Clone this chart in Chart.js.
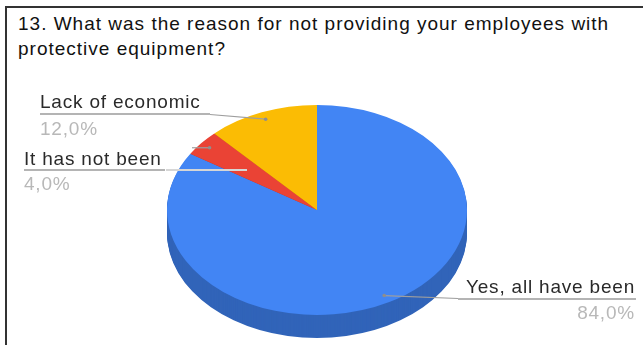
<!DOCTYPE html>
<html>
<head>
<meta charset="utf-8">
<script src="https://cdn.jsdelivr.net/npm/chart.js@4.4.0/dist/chart.umd.min.js"></script>
<style>
  body { margin: 0; background: #fff; }
  #wrap { position: relative; width: 643px; height: 345px; overflow: hidden; }
  #frame { position: absolute; left: 5px; top: 6px; right: -4px; bottom: -4px;
           border-top: 2px solid #333; border-left: 2px solid #333; }
  #title { position: absolute; left: 18px; top: 11px; font: 19px 'Liberation Sans', Arial, sans-serif;
           letter-spacing: 1px; line-height: 25px; color: #111; white-space: nowrap; }
  canvas { position: absolute; left: 0; top: 0; }
</style>
</head>
<body>
<div id="wrap">
  <div id="frame"></div>
  <div id="title">13. What was the reason for not providing your employees with<br>protective equipment?</div>
  <canvas id="pie" width="643" height="345"></canvas>
</div>
<script>
const answers = ['Yes, all have been', 'It has not been', 'Lack of economic'];
const shares = [84, 4, 12];
const topColors = ['#4285f4', '#ea4335', '#fbbc04'];
const sideColors = ['#3164b9', '#b0322a', '#bc8d03'];

// tilted pie: top face squashed to an ellipse, wall drawn underneath
const TILT = 0.7;
const PIE_Y = 210;
const DEPTH = 23;

// label boxes around the pie, one per answer
const labelBoxes = [
  { align: 'right', x: 635, textY: 293, pctY: 319, lineY: 299, lineFrom: 458, lineTo: 636, lead: [458, 298.5] },
  { align: 'left', x: 24, textY: 165, pctY: 190, lineY: 170, lineFrom: 24, lineTo: 165, ext: 247, lead: [192, null] },
  { align: 'left', x: 40, textY: 108, pctY: 135, lineY: 114, lineFrom: 40, lineTo: 210, lead: [210, 114.5] }
];

const tiltPlugin = {
  id: 'tilt',
  beforeDatasetsDraw(chart) {
    const ctx = chart.ctx;
    const arcs = chart.getDatasetMeta(0).data;
    const cy = arcs[0].y;
    for (let d = DEPTH; d > 0; d--) {
      ctx.save();
      ctx.translate(0, PIE_Y + d);
      ctx.scale(1, TILT);
      ctx.translate(0, -cy);
      arcs.forEach((a, i) => {
        ctx.beginPath();
        ctx.moveTo(a.x, a.y);
        ctx.arc(a.x, a.y, a.outerRadius, a.startAngle, a.endAngle);
        ctx.closePath();
        ctx.fillStyle = sideColors[i];
        ctx.fill();
      });
      ctx.restore();
    }
    ctx.save();
    ctx.translate(0, PIE_Y);
    ctx.scale(1, TILT);
    ctx.translate(0, -cy);
  },
  afterDatasetsDraw(chart) {
    chart.ctx.restore();
  }
};

const labelPlugin = {
  id: 'sliceLabels',
  afterDraw(chart) {
    const ctx = chart.ctx;
    const arcs = chart.getDatasetMeta(0).data;
    const total = shares.reduce((s, v) => s + v, 0);
    ctx.save();
    ctx.font = "19px 'Liberation Sans', Arial, sans-serif";
    ctx.letterSpacing = '0.8px';
    arcs.forEach((a, i) => {
      const box = labelBoxes[i];
      const mid = (a.startAngle + a.endAngle) / 2;
      const dx = a.x + Math.cos(mid) * a.outerRadius * 0.93;
      const dy = PIE_Y + Math.sin(mid) * a.outerRadius * 0.93 * TILT;

      // underline
      ctx.strokeStyle = '#b4b4b4';
      ctx.lineWidth = 2;
      ctx.beginPath();
      ctx.moveTo(box.lineFrom, box.lineY);
      ctx.lineTo(box.lineTo, box.lineY);
      ctx.stroke();
      if (box.ext) {
        ctx.strokeStyle = '#d6d6d6';
        ctx.beginPath();
        ctx.moveTo(box.lineTo + 1, box.lineY);
        ctx.lineTo(box.ext, box.lineY);
        ctx.stroke();
      }

      // leader from the slice
      ctx.strokeStyle = '#9e9e9e';
      ctx.lineWidth = 1.2;
      ctx.beginPath();
      ctx.moveTo(dx, dy);
      ctx.lineTo(box.lead[0], box.lead[1] === null ? dy : box.lead[1]);
      ctx.stroke();
      ctx.fillStyle = '#8e8e8e';
      ctx.beginPath();
      ctx.arc(dx, dy, 1.8, 0, Math.PI * 2);
      ctx.fill();

      ctx.textAlign = box.align;
      ctx.textBaseline = 'alphabetic';
      ctx.fillStyle = '#2a2a2a';
      ctx.fillText(answers[i], box.x, box.textY);
      ctx.fillStyle = '#b8b8b8';
      const pct = (shares[i] / total * 100).toFixed(1).replace('.', ',') + '%';
      ctx.fillText(pct, box.x, box.pctY);
    });
    ctx.restore();
  }
};

new Chart(document.getElementById('pie'), {
  type: 'pie',
  data: {
    labels: answers,
    datasets: [{
      data: shares,
      backgroundColor: topColors,
      borderWidth: 0
    }]
  },
  options: {
    responsive: false,
    animation: false,
    devicePixelRatio: 1,
    layout: { padding: { left: 167, right: 176, top: 22, bottom: 23 } },
    plugins: {
      legend: { display: false },
      tooltip: { enabled: false }
    }
  },
  plugins: [tiltPlugin, labelPlugin]
});
</script>
</body>
</html>
